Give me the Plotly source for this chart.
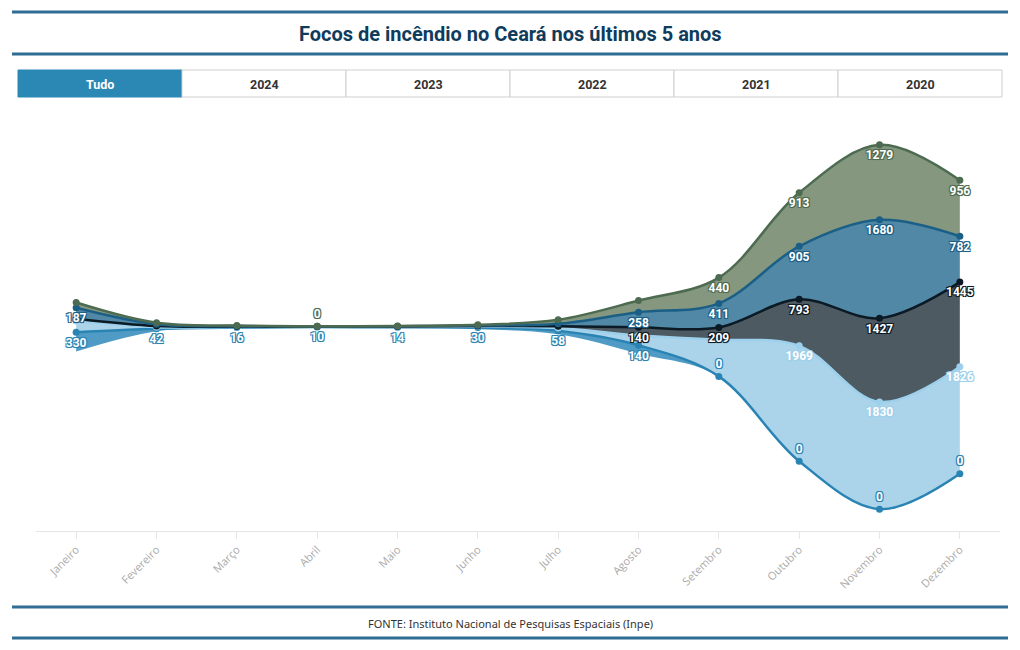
import plotly.graph_objects as go

# ---------------- data ----------------
months = ["Janeiro", "Fevereiro", "Março", "Abril", "Maio", "Junho", "Julho",
          "Agosto", "Setembro", "Outubro", "Novembro", "Dezembro"]
years = ["2020", "2021", "2022", "2023", "2024"]          # top -> bottom of the stream
v2020 = [90, 25, 10, 0, 4, 12, 68, 200, 440, 913, 1279, 956]
v2021 = [187, 30, 8, 5, 6, 10, 41, 258, 411, 905, 1680, 782]
v2022 = [40, 20, 6, 3, 5, 8, 30, 140, 209, 793, 1427, 1445]
v2023 = [188, 25, 10, 6, 8, 15, 49, 167, 626, 1969, 1830, 1826]
v2024 = [330, 42, 16, 10, 14, 30, 58, 140, 0, 0, 0, 0]
button_labels = ["Tudo", "2024", "2023", "2022", "2021", "2020"]
title_text = "Focos de incêndio no Ceará nos últimos 5 anos"
source_text = "FONTE: Instituto Nacional de Pesquisas Espaciais (Inpe)"

values = {"2020": v2020, "2021": v2021, "2022": v2022, "2023": v2023, "2024": v2024}

# ---------------- styles ----------------
line_col = {"2020": "#4d6b50", "2021": "#1b5f87", "2022": "#0b1a24",
            "2023": "#9dd0ec", "2024": "#2a84b3"}
fill_col = {"2020": "#85977f", "2021": "#5088a6", "2022": "#4d5a62",
            "2023": "#abd4ea", "2024": "#4f9bc5"}
outline_col = {"2020": "#4d6b50", "2021": "#1b5f87", "2022": "#0b1a24",
               "2023": "#9fd0ec", "2024": "#2a84b3"}
# month indices whose data label is hidden (overlap avoidance in the original)
hidden_labels = {"2020": [0, 1, 2, 4, 5, 6, 7],
                 "2021": [1, 2, 3, 4, 5, 6],
                 "2022": [0, 1, 2, 3, 4, 5, 6],
                 "2023": [0, 1, 2, 3, 4, 5, 6, 7, 8],
                 "2024": []}

W, H = 1020, 650
PX_L, PX_R = 36, 1000      # plot area in pixels
PX_T, PX_B = 115, 531
CENTER_PX = 327
PX_PER_UNIT = 0.0586


def px(x):
    return x / W


def py(y):
    return 1 - y / H


def outline(c):
    return (f"-1px -1px 0px {c}, 1px -1px 0px {c}, -1px 1px 0px {c}, 1px 1px 0px {c}, "
            f"0px 0px 2px {c}")


n = len(months)
xs = list(range(n))
totals = [sum(values[y][i] for y in years) for i in range(n)]
base = [-t / 2 for t in totals]

fig = go.Figure()
fig.add_trace(go.Scatter(x=xs, y=base, mode="lines", line=dict(width=0, shape="spline"),
                         hoverinfo="skip", showlegend=False))

cum = base[:]
for yr in reversed(years):          # bottom layer first
    vals = values[yr]
    cum = [c + v for c, v in zip(cum, vals)]
    texts = ["" if i in hidden_labels[yr] else str(v) for i, v in enumerate(vals)]
    pos = ["top center" if v == 0 else "bottom center" for v in vals]
    fig.add_trace(go.Scatter(
        x=xs, y=cum, mode="lines+markers+text", name=yr,
        line=dict(color=line_col[yr], width=2.5, shape="spline"),
        marker=dict(color=line_col[yr], size=7),
        fill="tonexty", fillcolor=fill_col[yr],
        text=texts, textposition=pos,
        textfont=dict(family="Roboto, 'Open Sans', sans-serif", size=12, color="white",
                      weight="bold", shadow=outline(outline_col[yr])),
        customdata=vals, hovertemplate="%{customdata}<extra>" + yr + "</extra>",
        showlegend=False, cliponaxis=False))

y_top = (CENTER_PX - PX_T) / PX_PER_UNIT
y_bot = -(PX_B - CENTER_PX) / PX_PER_UNIT

shapes = []
annotations = []
# horizontal rules
for ypix in (12, 54, 607, 638):
    shapes.append(dict(type="line", xref="paper", yref="paper", x0=px(12), x1=px(1008),
                       y0=py(ypix), y1=py(ypix), line=dict(color="#2f6d95", width=3)))
annotations.append(dict(text=f"<b>{title_text}</b>", xref="paper", yref="paper",
                        x=0.5, y=py(34), xanchor="center", yanchor="middle", showarrow=False,
                        font=dict(family="Roboto, sans-serif", size=20, color="#0f3b5c")))
annotations.append(dict(text=source_text, xref="paper", yref="paper", x=0.5, y=py(623),
                        xanchor="center", yanchor="middle", showarrow=False,
                        font=dict(family="'Noto Sans', sans-serif", size=11, color="#333333")))
# buttons
bx0, bx1, by0, by1 = 18, 1002, 70, 97
bw = (bx1 - bx0) / len(button_labels)
for i, lab in enumerate(button_labels):
    x0 = bx0 + i * bw
    active = i == 0
    shapes.append(dict(type="rect", xref="paper", yref="paper",
                       x0=px(x0), x1=px(x0 + bw), y0=py(by1), y1=py(by0),
                       fillcolor="#2b88b5" if active else "white",
                       line=dict(color="#2b88b5" if active else "#cfcfcf", width=1)))
    annotations.append(dict(text=f"<b>{lab}</b>", xref="paper", yref="paper",
                            x=px(x0 + bw / 2), y=py((by0 + by1) / 2 + 1.5),
                            xanchor="center", yanchor="middle", showarrow=False,
                            font=dict(family="Roboto, sans-serif", size=12.5,
                                      color="white" if active else "#333333")))

fig.update_layout(
    width=W, height=H, margin=dict(l=0, r=0, t=0, b=0),
    paper_bgcolor="white", plot_bgcolor="white",
    shapes=shapes, annotations=annotations, showlegend=False,
    xaxis=dict(domain=[px(PX_L), px(PX_R)], range=[-0.5, n - 0.5],
               tickmode="array", tickvals=xs, ticktext=months, tickangle=-45,
               showgrid=False, zeroline=False, showline=True, linecolor="#e6e6e6",
               ticks="outside", ticklen=7, tickcolor="#e6e6e6",
               tickfont=dict(family="'Open Sans', sans-serif", size=11, color="#aaaaaa")),
    yaxis=dict(domain=[py(PX_B), py(PX_T)], range=[y_bot, y_top],
               showgrid=False, zeroline=False, showticklabels=False, showline=False),
)

fig.write_html("out.html", config={"displayModeBar": False},
               post_script="document.body.style.margin='0';document.body.style.overflow='hidden';")
